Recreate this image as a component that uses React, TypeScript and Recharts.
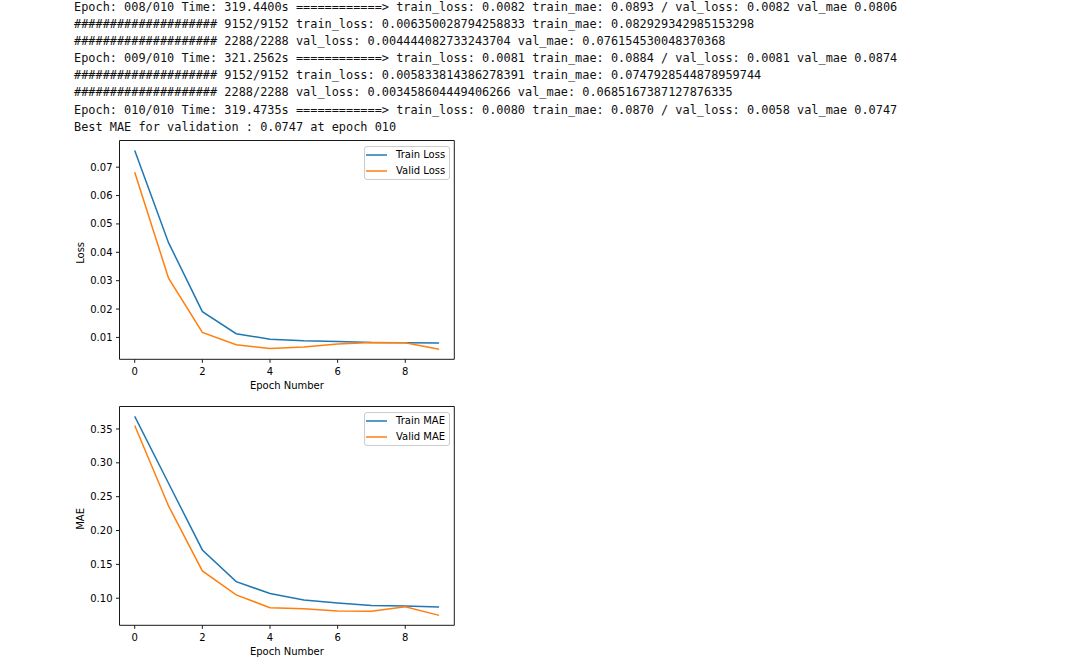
import React from "react";
import { LineChart, Line, XAxis, YAxis, Legend } from "recharts";

// training log printed above the plots
const logLines = [
  "Epoch: 008/010 Time: 319.4400s ============> train_loss: 0.0082 train_mae: 0.0893 / val_loss: 0.0082 val_mae 0.0806",
  "#################### 9152/9152 train_loss: 0.006350028794258833 train_mae: 0.082929342985153298",
  "#################### 2288/2288 val_loss: 0.004444082733243704 val_mae: 0.076154530048370368",
  "Epoch: 009/010 Time: 321.2562s ============> train_loss: 0.0081 train_mae: 0.0884 / val_loss: 0.0081 val_mae 0.0874",
  "#################### 9152/9152 train_loss: 0.005833814386278391 train_mae: 0.0747928544878959744",
  "#################### 2288/2288 val_loss: 0.003458604449406266 val_mae: 0.0685167387127876335",
  "Epoch: 010/010 Time: 319.4735s ============> train_loss: 0.0080 train_mae: 0.0870 / val_loss: 0.0058 val_mae 0.0747",
  "Best MAE for validation : 0.0747 at epoch 010",
];

const epochs = [0, 1, 2, 3, 4, 5, 6, 7, 8, 9];
const trainLoss = [0.0759, 0.0434, 0.0191, 0.0113, 0.0094, 0.0088, 0.0086, 0.0082, 0.0081, 0.008];
const validLoss = [0.0682, 0.0309, 0.0118, 0.0074, 0.0061, 0.0066, 0.0077, 0.0082, 0.0081, 0.0058];
const trainMae = [0.3685, 0.2698, 0.1713, 0.1245, 0.1069, 0.0975, 0.093, 0.0893, 0.0884, 0.087];
const validMae = [0.3552, 0.2363, 0.1403, 0.1049, 0.0861, 0.0846, 0.0812, 0.0806, 0.0874, 0.0747];

const xTicks = [0, 2, 4, 6, 8];
const lossTicks = [0.01, 0.02, 0.03, 0.04, 0.05, 0.06, 0.07];
const maeTicks = [0.1, 0.15, 0.2, 0.25, 0.3, 0.35];

const FONT = "'DejaVu Sans', sans-serif";
const AXIS = "#1a1a1a";

// matplotlib style 5% auto margins
const pad = ([lo, hi]: [number, number]): [number, number] => {
  const m = (hi - lo) * 0.05;
  return [lo - m, hi + m];
};

interface LegendItem {
  value: string;
  color: string;
}

const LegendBox = ({ payload }: { payload?: LegendItem[] }) => (
  <div
    style={{
      width: 86,
      height: 34,
      boxSizing: "border-box",
      background: "rgba(255,255,255,0.8)",
      border: "1px solid #cccccc",
      borderRadius: 3,
      fontFamily: FONT,
      fontSize: 10,
      color: "#000",
    }}
  >
    {(payload || []).map((p) => (
      <div key={p.value} style={{ display: "flex", alignItems: "center", height: 16 }}>
        <svg width={21} height={4} style={{ marginLeft: 1.5, marginRight: 9 }}>
          <line x1={0} y1={2} x2={21} y2={2} stroke={p.color} strokeWidth={1.5} />
        </svg>
        <span style={{ lineHeight: "16px", whiteSpace: "nowrap" }}>{p.value}</span>
      </div>
    ))}
  </div>
);

const yTitle = (text: string) => (props: any) => {
  const vb = props.viewBox || { x: 0, y: 0, width: 0, height: 0 };
  const cx = vb.x + 14.5;
  const cy = vb.y + vb.height / 2 + 3;
  return (
    <text
      x={cx}
      y={cy}
      transform={`rotate(-90, ${cx}, ${cy})`}
      textAnchor="middle"
      fontSize={10}
      fontFamily={FONT}
      fill="#000"
    >
      {text}
    </text>
  );
};

const xTitle = (props: any) => {
  const vb = props.viewBox || { x: 0, y: 0, width: 0, height: 0 };
  return (
    <text
      x={vb.x + vb.width / 2}
      y={vb.y + 29.7}
      textAnchor="middle"
      fontSize={10}
      fontFamily={FONT}
      fill="#000"
    >
      Epoch Number
    </text>
  );
};

interface PanelProps {
  top: number;
  train: number[];
  valid: number[];
  ticks: number[];
  yLabel: string;
  trainName: string;
  validName: string;
}

function Panel({ top, train, valid, ticks, yLabel, trainName, validName }: PanelProps) {
  const data = epochs.map((e, i) => ({ epoch: e, train: train[i], valid: valid[i] }));
  const tick = { fontSize: 10, fill: "#000", fontFamily: FONT };

  return (
    <div style={{ position: "absolute", left: 60, top }}>
      <LineChart
        width={410}
        height={270}
        data={data}
        margin={{ top: 9.5, right: 14.7, left: 9.5, bottom: 10.7 }}
      >
        <XAxis
          dataKey="epoch"
          type="number"
          domain={pad as any}
          ticks={xTicks}
          height={30}
          tick={tick}
          tickSize={3.5}
          tickMargin={5}
          stroke={AXIS}
          label={xTitle}
        />
        {/* top and right spines to close the box */}
        <XAxis xAxisId="top" orientation="top" type="number" domain={[0, 1]} height={1} tick={false} tickLine={false} stroke={AXIS} />
        <YAxis
          type="number"
          domain={pad as any}
          ticks={ticks}
          width={50}
          tick={tick}
          tickSize={3.5}
          tickMargin={3.5}
          tickFormatter={(v: number) => v.toFixed(2)}
          stroke={AXIS}
          label={yTitle(yLabel)}
        />
        <YAxis yAxisId="right" orientation="right" type="number" domain={[0, 1]} width={1} tick={false} tickLine={false} stroke={AXIS} />
        <Legend
          layout="vertical"
          align="center"
          verticalAlign="middle"
          content={<LegendBox />}
          wrapperStyle={{ left: 303.5, top: 16, width: 86 }}
        />
        <Line
          dataKey="train"
          name={trainName}
          type="linear"
          stroke="#1f77b4"
          strokeWidth={1.5}
          dot={false}
          isAnimationActive={false}
        />
        <Line
          dataKey="valid"
          name={validName}
          type="linear"
          stroke="#ff7f0e"
          strokeWidth={1.5}
          dot={false}
          isAnimationActive={false}
        />
      </LineChart>
    </div>
  );
}

export default function App() {
  return (
    <div style={{ position: "absolute", left: 0, top: 0, width: 1086, height: 670, background: "#fff" }}>
      <pre
        style={{
          position: "absolute",
          left: 74,
          top: -1,
          margin: 0,
          fontFamily: "'DejaVu Sans Mono', monospace",
          fontSize: 11.9,
          lineHeight: "17.1px",
          color: "#111",
        }}
      >
        {logLines.join("\n")}
      </pre>
      <Panel
        top={130}
        train={trainLoss}
        valid={validLoss}
        ticks={lossTicks}
        yLabel="Loss"
        trainName="Train Loss"
        validName="Valid Loss"
      />
      <Panel
        top={396}
        train={trainMae}
        valid={validMae}
        ticks={maeTicks}
        yLabel="MAE"
        trainName="Train MAE"
        validName="Valid MAE"
      />
    </div>
  );
}
